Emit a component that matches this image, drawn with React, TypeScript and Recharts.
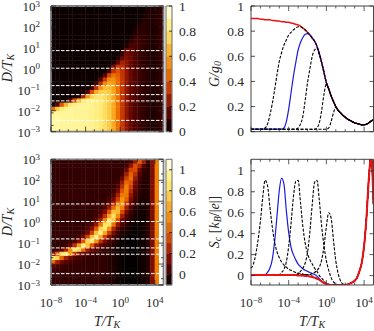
import { Line, LineChart, ReferenceLine, Scatter, ScatterChart, XAxis, YAxis } from 'recharts';

const FONT = '"Liberation Serif", serif';
const INK = '#2a2a2a';
const FRAME = '#808080';

// log10(T/T_K) of the line samples
const logT = [-8, -7.75, -7.5, -7.25, -7, -6.75, -6.5, -6.25, -6, -5.75, -5.5, -5.25, -5, -4.75, -4.5, -4.25, -4, -3.75, -3.5, -3.25, -3, -2.75, -2.5, -2.25, -2, -1.75, -1.5, -1.25, -1, -0.75, -0.5, -0.25, 0, 0.25, 0.5, 0.75, 1, 1.25, 1.5, 1.75, 2, 2.25, 2.5, 2.75, 3, 3.25, 3.5, 3.75, 4, 4.25, 4.5, 4.75, 5];

// conductance curves, they all fall onto the red one after their peak
const gRed = [0.9, 0.9, 0.9, 0.9, 0.895, 0.895, 0.89, 0.89, 0.89, 0.885, 0.885, 0.88, 0.88, 0.875, 0.875, 0.87, 0.87, 0.865, 0.86, 0.855, 0.85, 0.84, 0.825, 0.81, 0.79, 0.77, 0.745, 0.72, 0.68, 0.62, 0.55, 0.47, 0.39, 0.34, 0.285, 0.24, 0.2, 0.17, 0.15, 0.13, 0.115, 0.1, 0.09, 0.08, 0.07, 0.065, 0.06, 0.055, 0.055, 0.06, 0.07, 0.085, 0.095];
const gA = [0.02, 0.02, 0.02, 0.02, 0.02, 0.02, 0.03, 0.06, 0.13, 0.22, 0.33, 0.45, 0.56, 0.63, 0.69, 0.73, 0.77, 0.79, 0.81, 0.825, 0.835, 0.835, 0.825, 0.81, ...gRed.slice(24)];
const gBlue = [0.02, 0.02, 0.02, 0.02, 0.02, 0.02, 0.02, 0.02, 0.02, 0.02, 0.02, 0.02, 0.02, 0.02, 0.03, 0.08, 0.18, 0.31, 0.44, 0.55, 0.65, 0.71, 0.75, 0.775, 0.78, 0.77, ...gRed.slice(26)];
const gC = [0.02, 0.02, 0.02, 0.02, 0.02, 0.02, 0.02, 0.02, 0.02, 0.02, 0.02, 0.02, 0.02, 0.02, 0.02, 0.02, 0.02, 0.02, 0.02, 0.02, 0.03, 0.06, 0.12, 0.25, 0.39, 0.5, 0.6, 0.65, 0.665, 0.62, ...gRed.slice(30)];
const gD = [0.02, 0.02, 0.02, 0.02, 0.02, 0.02, 0.02, 0.02, 0.02, 0.02, 0.02, 0.02, 0.02, 0.02, 0.02, 0.02, 0.02, 0.02, 0.02, 0.02, 0.02, 0.02, 0.02, 0.02, 0.02, 0.02, 0.02, 0.02, 0.03, 0.07, 0.17, 0.3, 0.38, 0.34, ...gRed.slice(34)];
const gE = [0.02, 0.02, 0.02, 0.02, 0.02, 0.02, 0.02, 0.02, 0.02, 0.02, 0.02, 0.02, 0.02, 0.02, 0.02, 0.02, 0.02, 0.02, 0.02, 0.02, 0.02, 0.02, 0.02, 0.02, 0.02, 0.02, 0.02, 0.02, 0.02, 0.02, 0.02, 0.02, 0.02, 0.03, 0.08, 0.15, 0.195, 0.17, ...gRed.slice(38)];

// thermopower curves
const sRed = [0.005, 0.005, 0.005, 0.005, 0.005, 0.005, 0.005, 0.005, 0.005, 0.005, 0.005, 0.005, 0.005, 0.005, 0.005, 0.005, 0.005, 0.005, 0.005, 0.005, 0, 0, 0, -0.005, -0.005, -0.01, -0.015, -0.02, -0.03, -0.04, -0.055, -0.07, -0.08, -0.085, -0.09, -0.09, -0.09, -0.09, -0.09, -0.09, -0.09, -0.085, -0.075, -0.065, -0.05, -0.02, 0.04, 0.12, 0.28, 0.55, 0.92, 1.15, 0.68];
const sA = [0.07, 0.11, 0.2, 0.34, 0.52, 0.75, 0.91, 0.86, 0.66, 0.47, 0.32, 0.23, 0.17, 0.13, 0.1, 0.08, 0.06, 0.05, 0.04, 0.03, 0.025, 0.02, 0.015, 0.01, 0.01, 0, -0.005, -0.015, -0.025, ...sRed.slice(29)];
const sBlue = [0.01, 0.01, 0.01, 0.01, 0.01, 0.01, 0.01, 0.03, 0.07, 0.15, 0.32, 0.56, 0.81, 0.93, 0.87, 0.62, 0.41, 0.27, 0.2, 0.15, 0.11, 0.085, 0.065, 0.05, 0.04, 0.03, 0.02, 0.01, -0.005, -0.03, ...sRed.slice(30)];
const sC = [0.01, 0.01, 0.01, 0.01, 0.01, 0.01, 0.01, 0.01, 0.01, 0.01, 0.01, 0.01, 0.01, 0.03, 0.06, 0.13, 0.28, 0.5, 0.75, 0.9, 0.91, 0.7, 0.47, 0.31, 0.21, 0.15, 0.11, 0.07, 0.04, 0, -0.025, -0.05, ...sRed.slice(32)];
const sD = [0.01, 0.01, 0.01, 0.01, 0.01, 0.01, 0.01, 0.01, 0.01, 0.01, 0.01, 0.01, 0.01, 0.01, 0.01, 0.01, 0.01, 0.01, 0.01, 0.01, 0.02, 0.04, 0.07, 0.12, 0.22, 0.42, 0.68, 0.89, 0.91, 0.72, 0.47, 0.28, 0.14, 0.05, -0.02, -0.06, -0.08, ...sRed.slice(37)];
const sE = [0.01, 0.01, 0.01, 0.01, 0.01, 0.01, 0.01, 0.01, 0.01, 0.01, 0.01, 0.01, 0.01, 0.01, 0.01, 0.01, 0.01, 0.01, 0.01, 0.01, 0.01, 0.01, 0.01, 0.01, 0.01, 0.01, 0.02, 0.03, 0.05, 0.08, 0.15, 0.28, 0.47, 0.6, 0.55, 0.34, 0.14, 0.02, -0.05, -0.08, -0.085, ...sRed.slice(41)];

const gTable = logT.map((t, i) => ({ t, red: gRed[i], a: gA[i], blue: gBlue[i], c: gC[i], d: gD[i], e: gE[i] }));
const sTable = logT.map((t, i) => ({ t, red: sRed[i], a: sA[i], blue: sBlue[i], c: sC[i], d: sD[i], e: sE[i] }));

// heat map cell centres
const heatT = [-7.75, -7.25, -6.75, -6.25, -5.75, -5.25, -4.75, -4.25, -3.75, -3.25, -2.75, -2.25, -1.75, -1.25, -0.75, -0.25, 0.25, 0.75, 1.25, 1.75, 2.25, 2.75, 3.25, 3.75, 4.25, 4.75];
const heatD = [-2.9, -2.7, -2.5, -2.3, -2.1, -1.9, -1.7, -1.5, -1.3, -1.1, -0.9, -0.7, -0.5, -0.3, -0.1, 0.1, 0.3, 0.5, 0.7, 0.9, 1.1, 1.3, 1.5, 1.7, 1.9, 2.1, 2.3, 2.5, 2.7, 2.9];

const gHeat = [
  [.9,.9,.89,.89,.89,.88,.88,.87,.87,.86,.84,.81,.77,.71,.62,.47,.34,.24,.17,.13,.1,.08,.06,.05,.06,.09],
  [.9,.9,.89,.89,.89,.88,.88,.87,.87,.86,.84,.81,.77,.71,.62,.47,.34,.24,.17,.13,.1,.08,.06,.05,.06,.09],
  [.9,.9,.89,.89,.89,.88,.88,.87,.87,.86,.84,.81,.77,.71,.62,.47,.34,.24,.17,.13,.1,.08,.06,.05,.06,.09],
  [.89,.9,.89,.89,.89,.88,.88,.87,.87,.86,.84,.81,.77,.71,.62,.47,.34,.24,.17,.13,.1,.08,.06,.05,.06,.09],
  [.86,.88,.88,.89,.89,.88,.88,.87,.87,.86,.84,.81,.77,.71,.62,.47,.34,.24,.17,.13,.1,.08,.06,.05,.06,.09],
  [.46,.71,.81,.86,.89,.88,.88,.87,.87,.86,.84,.81,.77,.71,.62,.47,.34,.24,.17,.13,.1,.08,.06,.05,.06,.09],
  [.04,.14,.4,.65,.79,.85,.87,.87,.87,.86,.84,.81,.77,.71,.62,.47,.34,.24,.17,.13,.1,.08,.06,.05,.06,.09],
  [.02,.02,.02,.04,.14,.4,.65,.78,.84,.85,.84,.81,.77,.71,.62,.47,.34,.24,.17,.13,.1,.08,.06,.05,.06,.09],
  [.02,.02,.02,.02,.02,.02,.08,.28,.55,.73,.79,.79,.77,.71,.62,.47,.34,.24,.17,.13,.1,.08,.06,.05,.06,.09],
  [.02,.02,.02,.02,.02,.02,.02,.04,.14,.39,.62,.72,.74,.7,.62,.47,.34,.24,.17,.13,.1,.08,.06,.05,.06,.09],
  [.02,.02,.02,.02,.02,.02,.02,.02,.03,.1,.32,.56,.67,.67,.6,.47,.34,.24,.17,.13,.1,.08,.06,.05,.06,.09],
  [.02,.02,.02,.02,.02,.02,.02,.02,.02,.03,.1,.31,.53,.62,.58,.46,.34,.24,.17,.13,.1,.08,.06,.05,.06,.09],
  [.02,.02,.02,.02,.02,.02,.02,.02,.02,.02,.03,.13,.35,.52,.55,.45,.34,.24,.17,.13,.1,.08,.06,.05,.06,.09],
  [.02,.02,.02,.02,.02,.02,.02,.02,.02,.02,.02,.03,.15,.37,.47,.43,.33,.24,.17,.13,.1,.08,.06,.05,.06,.09],
  [.02,.02,.02,.02,.02,.02,.02,.02,.02,.02,.02,.02,.03,.12,.33,.4,.33,.24,.17,.13,.1,.08,.06,.05,.06,.09],
  [.02,.02,.02,.02,.02,.02,.02,.02,.02,.02,.02,.02,.02,.05,.2,.33,.31,.23,.17,.13,.1,.08,.06,.05,.06,.09],
  [.02,.02,.02,.02,.02,.02,.02,.02,.02,.02,.02,.02,.02,.02,.05,.17,.27,.23,.17,.13,.1,.08,.06,.05,.06,.09],
  [.02,.02,.02,.02,.02,.02,.02,.02,.02,.02,.02,.02,.02,.02,.02,.06,.17,.21,.17,.13,.1,.08,.06,.05,.06,.09],
  [.02,.02,.02,.02,.02,.02,.02,.02,.02,.02,.02,.02,.02,.02,.02,.03,.09,.19,.17,.13,.1,.08,.06,.05,.06,.09],
  [.02,.02,.02,.02,.02,.02,.02,.02,.02,.02,.02,.02,.02,.02,.02,.02,.04,.17,.16,.13,.1,.08,.06,.05,.06,.09],
  [.02,.02,.02,.02,.02,.02,.02,.02,.02,.02,.02,.02,.02,.02,.02,.02,.02,.06,.12,.12,.1,.08,.06,.05,.06,.09],
  [.02,.02,.02,.02,.02,.02,.02,.02,.02,.02,.02,.02,.02,.02,.02,.02,.02,.03,.08,.11,.1,.08,.06,.05,.06,.09],
  [.02,.02,.02,.02,.02,.02,.02,.02,.02,.02,.02,.02,.02,.02,.02,.02,.02,.02,.05,.09,.09,.08,.06,.05,.06,.09],
  [.02,.02,.02,.02,.02,.02,.02,.02,.02,.02,.02,.02,.02,.02,.02,.02,.02,.02,.03,.06,.08,.08,.06,.05,.06,.09],
  [.02,.02,.02,.02,.02,.02,.02,.02,.02,.02,.02,.02,.02,.02,.02,.02,.02,.02,.02,.04,.07,.07,.06,.05,.06,.09],
  [.02,.02,.02,.02,.02,.02,.02,.02,.02,.02,.02,.02,.02,.02,.02,.02,.02,.02,.02,.03,.05,.07,.06,.05,.06,.09],
  [.02,.02,.02,.02,.02,.02,.02,.02,.02,.02,.02,.02,.02,.02,.02,.02,.02,.02,.02,.02,.03,.06,.06,.05,.06,.09],
  [.02,.02,.02,.02,.02,.02,.02,.02,.02,.02,.02,.02,.02,.02,.02,.02,.02,.02,.02,.02,.02,.04,.06,.05,.06,.09],
  [.02,.02,.02,.02,.02,.02,.02,.02,.02,.02,.02,.02,.02,.02,.02,.02,.02,.02,.02,.02,.02,.03,.05,.05,.06,.09],
  [.02,.02,.02,.02,.02,.02,.02,.02,.02,.02,.02,.02,.02,.02,.02,.02,.02,.02,.02,.02,.02,.02,.04,.05,.06,.09],
];

const sHeat = [
  [0,0,0,0,0,0,0,0,0,0,0,0,-.01,-.02,-.04,-.07,-.08,-.09,-.09,-.09,-.08,-.06,-.02,.15,.5,1.1],
  [0,0,0,0,0,0,0,0,0,0,0,0,-.01,-.02,-.04,-.07,-.08,-.09,-.09,-.09,-.08,-.06,-.02,.15,.5,1.1],
  [0,0,0,0,0,0,0,0,0,0,0,0,-.01,-.02,-.04,-.07,-.08,-.09,-.09,-.09,-.08,-.06,-.02,.15,.5,1.1],
  [.01,0,0,0,0,0,0,0,0,0,0,0,-.01,-.02,-.04,-.07,-.08,-.09,-.09,-.09,-.08,-.06,-.02,.15,.5,1.1],
  [.09,.05,.03,.01,0,0,0,0,0,0,0,0,-.01,-.02,-.04,-.07,-.08,-.09,-.09,-.09,-.08,-.06,-.02,.15,.5,1.1],
  [.44,.22,.11,.06,.04,.02,.01,0,0,0,0,0,-.01,-.02,-.04,-.07,-.08,-.09,-.09,-.09,-.08,-.06,-.02,.15,.5,1.1],
  [.88,.78,.44,.22,.11,.06,.04,.02,.01,0,0,0,-.01,-.02,-.04,-.07,-.08,-.09,-.09,-.09,-.08,-.06,-.02,.15,.5,1.1],
  [.15,.39,.77,.88,.57,.29,.15,.08,.05,.02,.01,0,-.01,-.02,-.04,-.07,-.08,-.09,-.09,-.09,-.08,-.06,-.02,.15,.5,1.1],
  [0,.02,.08,.23,.54,.89,.79,.45,.21,.11,.07,.04,.01,-.02,-.04,-.07,-.08,-.09,-.09,-.09,-.08,-.06,-.02,.15,.5,1.1],
  [0,0,0,.03,.1,.28,.61,.91,.73,.38,.19,.1,.05,.01,-.03,-.07,-.08,-.09,-.09,-.09,-.08,-.06,-.02,.15,.5,1.1],
  [0,0,0,0,.01,.05,.15,.39,.78,.88,.58,.29,.14,.05,.01,-.05,-.08,-.09,-.09,-.09,-.08,-.06,-.02,.15,.5,1.1],
  [0,0,0,0,0,.01,.04,.12,.33,.71,.92,.65,.32,.15,.05,-.02,-.06,-.09,-.09,-.09,-.08,-.06,-.02,.15,.5,1.1],
  [0,0,0,0,0,0,.01,.04,.12,.33,.71,.92,.64,.32,.13,.02,-.03,-.06,-.08,-.09,-.08,-.06,-.02,.15,.5,1.1],
  [0,0,0,0,0,0,0,.01,.06,.15,.39,.78,.87,.56,.25,.08,-.01,-.04,-.07,-.09,-.08,-.06,-.02,.15,.5,1.1],
  [0,0,0,0,0,0,0,0,.02,.07,.19,.47,.85,.84,.47,.18,.05,-.01,-.05,-.07,-.08,-.06,-.02,.15,.5,1.1],
  [0,0,0,0,0,0,0,0,0,.02,.08,.23,.53,.86,.74,.37,.12,.02,-.03,-.06,-.07,-.06,-.02,.15,.5,1.1],
  [0,0,0,0,0,0,0,0,0,0,.03,.11,.29,.63,.83,.54,.22,.06,-.01,-.05,-.06,-.06,-.02,.15,.5,1.1],
  [0,0,0,0,0,0,0,0,0,0,.01,.06,.15,.39,.72,.69,.36,.13,.02,-.04,-.06,-.06,-.02,.15,.5,1.1],
  [0,0,0,0,0,0,0,0,0,0,0,.02,.07,.2,.45,.68,.5,.22,.06,-.02,-.05,-.06,-.02,.15,.5,1.1],
  [0,0,0,0,0,0,0,0,0,0,0,.01,.03,.08,.23,.47,.6,.31,.1,.01,-.04,-.05,-.02,.15,.5,1.1],
  [0,0,0,0,0,0,0,0,0,0,0,0,0,.04,.13,.33,.58,.42,.15,.03,-.03,-.05,-.02,.15,.5,1.1],
  [0,0,0,0,0,0,0,0,0,0,0,0,0,0,.06,.23,.48,.48,.2,.05,-.02,-.04,-.02,.15,.5,1.1],
  [0,0,0,0,0,0,0,0,0,0,0,0,0,0,.02,.14,.38,.5,.26,.07,0,-.04,-.02,.15,.5,1.1],
  [0,0,0,0,0,0,0,0,0,0,0,0,0,0,0,.07,.28,.5,.32,.1,.01,-.03,-.02,.15,.5,1.1],
  [0,0,0,0,0,0,0,0,0,0,0,0,0,0,0,.03,.2,.44,.38,.13,.02,-.03,-.02,.15,.5,1.1],
  [0,0,0,0,0,0,0,0,0,0,0,0,0,0,0,0,.1,.33,.45,.2,.04,-.02,-.02,.15,.5,1.1],
  [0,0,0,0,0,0,0,0,0,0,0,0,0,0,0,0,.03,.22,.42,.28,.07,-.01,-.02,.15,.5,1.1],
  [0,0,0,0,0,0,0,0,0,0,0,0,0,0,0,0,.01,.12,.34,.36,.12,.01,-.02,.15,.5,1.1],
  [0,0,0,0,0,0,0,0,0,0,0,0,0,0,0,0,0,.03,.18,.37,.25,.05,-.02,.15,.5,1.1],
  [0,0,0,0,0,0,0,0,0,0,0,0,0,0,0,0,0,.01,.05,.2,.41,.22,.02,.15,.5,1.1],
];

// white dashed cuts through the maps, log10(D/T_K)
const cutLevels = [-2.46, -1.53, -1.23, -0.8, 0.03, 0.87];

const xTicks = [-8, -7, -6, -5, -4, -3, -2, -1, 0, 1, 2, 3, 4];
const xLabels = [-8, -4, 0, 4];
const dTicks = [-3, -2.7, -2.1, -2, -1.7, -1.1, -1, -0.7, -0.1, 0, 0.3, 0.9, 1, 1.3, 1.9, 2, 2.3, 2.9, 3];
const dLabels = [-3, -2, -1, 0, 1, 2, 3];
const gTicks = [0, 0.2, 0.4, 0.6, 0.8, 1];
const sTicks = [0, 0.2, 0.4, 0.6, 0.8, 1];

const palette = ['#000000', '#3c0000', '#7a0a00', '#b52800', '#e05000', '#f08000', '#f8a018', '#fcc840', '#ffe870', '#fff8a0', '#ffffff'];

const gBands = [0.05, 0.15, 0.25, 0.35, 0.45, 0.55, 0.65, 0.75, 0.85, 0.95];
const sBands = [-0.05, 0.05, 0.15, 0.25, 0.35, 0.45, 0.55, 0.65, 0.75, 0.85, 0.95, 1.05];

function colorAt(f: number) {
  const p = Math.max(0, Math.min(1, f)) * (palette.length - 1);
  const i = Math.min(Math.floor(p), palette.length - 2);
  const mix = p - i;
  const a = palette[i];
  const b = palette[i + 1];
  const ch = (k: number) => {
    const x = parseInt(a.slice(k, k + 2), 16);
    const y = parseInt(b.slice(k, k + 2), 16);
    return Math.round(x + (y - x) * mix);
  };
  return `rgb(${ch(1)},${ch(3)},${ch(5)})`;
}

function Decade({ x, y, exp, anchor }: any) {
  return (
    <text x={x} y={y} textAnchor={anchor} fontFamily={FONT} fontSize={13} fill={INK}>
      <tspan>10</tspan>
      <tspan dy={-4.5} fontSize={9}>{String(exp).replace('-', '\u2212')}</tspan>
    </text>
  );
}

// ticks go inside the frame, the way the plotting program drew them
function BottomTick({ x, y, payload, labelled, color }: any) {
  const major = xLabels.includes(payload.value);
  return (
    <g>
      <line x1={x} x2={x} y1={y} y2={y - (major ? 5 : 2.5)} stroke={color} strokeWidth={0.8} />
      {labelled && major ? <Decade x={x} y={y + 22} exp={payload.value} anchor="middle" /> : null}
    </g>
  );
}

function TopTick({ x, y, payload, color }: any) {
  const major = xLabels.includes(payload.value);
  return <line x1={x} x2={x} y1={y} y2={y + (major ? 5 : 2.5)} stroke={color} strokeWidth={0.8} />;
}

function LogLeftTick({ x, y, payload, color }: any) {
  const major = dLabels.includes(payload.value);
  return (
    <g>
      <line x1={x} x2={x + (major ? 5 : 2.5)} y1={y} y2={y} stroke={color} strokeWidth={0.8} />
      {major ? <Decade x={x - 11} y={y + 5} exp={payload.value} anchor="end" /> : null}
    </g>
  );
}

function PlainLeftTick({ x, y, payload }: any) {
  return (
    <g>
      <line x1={x} x2={x + 4} y1={y} y2={y} stroke="#222" strokeWidth={0.8} />
      <text x={x - 7} y={y + 4.5} textAnchor="end" fontFamily={FONT} fontSize={13.5} fill={INK}>
        {payload.value}
      </text>
    </g>
  );
}

function RightTick({ x, y, payload, major, color }: any) {
  const len = major ? (major(payload.value) ? 5 : 2.5) : 4;
  return <line x1={x} x2={x - len} y1={y} y2={y} stroke={color} strokeWidth={0.8} />;
}

function BarTick({ x, y, payload }: any) {
  return (
    <g>
      <line x1={x} x2={x - 3} y1={y} y2={y} stroke="#111" strokeWidth={0.8} />
      <text x={x + 7} y={y + 4.5} fontFamily={FONT} fontSize={13.5} fill={INK}>
        {payload.value}
      </text>
    </g>
  );
}

const NoMark = () => <g />;

function HeatMap({ rows, low, high, top, height, marginTop, marginBottom, labelled }: any) {
  const plotW = 112.5;
  const plotH = height - marginTop - marginBottom;
  const w = plotW / heatT.length + 0.4;
  const h = plotH / heatD.length + 0.4;
  const cells = heatD.flatMap((d, j) => heatT.map((t, i) => ({ t, d, v: rows[j][i] })));
  const frame = { stroke: FRAME, strokeWidth: 1.8 };
  const corner = [{ t: -8, d: -3 }];
  return (
    <>
      <div style={{ position: 'absolute', left: 0, top }}>
        <ScatterChart width={165} height={height} margin={{ top: marginTop, right: 1.5, left: 51, bottom: marginBottom }}>
          <XAxis hide type="number" dataKey="t" domain={[-8, 5]} />
          <YAxis hide type="number" dataKey="d" domain={[-3, 3]} />
          <Scatter
            data={cells}
            isAnimationActive={false}
            shape={(p: any) => (
              <rect x={p.cx - w / 2} y={p.cy - h / 2} width={w} height={h} fill={colorAt((p.payload.v - low) / (high - low))} />
            )}
          />
        </ScatterChart>
      </div>
      {/* second chart on top so the frame, ticks and cuts stay above the cells */}
      <div style={{ position: 'absolute', left: 0, top }}>
        <ScatterChart width={165} height={height} margin={{ top: marginTop - 1, right: 0.5, left: 0, bottom: labelled ? 0 : marginBottom - 1 }}>
          <XAxis type="number" dataKey="t" domain={[-8, 5]} ticks={xTicks} interval={0} height={labelled ? marginBottom : 1} tickSize={0} tickMargin={0} tickLine={false} axisLine={frame} tick={<BottomTick labelled={labelled} color="#222" />} />
          <XAxis xAxisId="top" orientation="top" type="number" dataKey="t" domain={[-8, 5]} ticks={xTicks} interval={0} height={1} tickSize={0} tickMargin={0} tickLine={false} axisLine={frame} tick={<TopTick color="#222" />} />
          <YAxis type="number" dataKey="d" domain={[-3, 3]} ticks={dTicks} interval={0} width={51} tickSize={0} tickMargin={0} tickLine={false} axisLine={frame} tick={<LogLeftTick color="#222" />} />
          <YAxis yAxisId="right" orientation="right" type="number" dataKey="d" domain={[-3, 3]} ticks={dTicks} interval={0} width={1} tickSize={0} tickMargin={0} tickLine={false} axisLine={frame} tick={<RightTick color="#222" major={(v: number) => dLabels.includes(v)} />} />
          <Scatter data={corner} isAnimationActive={false} shape={NoMark} />
          <Scatter data={corner} xAxisId="top" yAxisId="right" isAnimationActive={false} shape={NoMark} />
          {cutLevels.map((y) => (
            <ReferenceLine key={y} y={y} stroke="#ffffff" strokeWidth={1} strokeDasharray="3.5 1.5" />
          ))}
        </ScatterChart>
      </div>
    </>
  );
}

function ColorBar({ bands, low, high, ticks, top, height, marginTop, marginBottom }: any) {
  const plotH = height - marginTop - marginBottom;
  const h = (plotH * (bands[1] - bands[0])) / (high - low) + 0.4;
  const frame = { stroke: FRAME, strokeWidth: 1.2 };
  const cells = bands.map((b: number) => ({ x: 0.5, b }));
  const corner = [{ x: 0.5, b: bands[0] }];
  return (
    <>
      <div style={{ position: 'absolute', left: 165, top }}>
        <ScatterChart width={37} height={height} margin={{ top: marginTop, right: 30, left: 1, bottom: marginBottom }}>
          <XAxis hide type="number" dataKey="x" domain={[0, 1]} />
          <YAxis hide type="number" dataKey="b" domain={[low, high]} />
          <Scatter
            data={cells}
            isAnimationActive={false}
            shape={(p: any) => (
              <rect x={p.cx - 3} y={p.cy - h / 2} width={6} height={h} fill={colorAt((p.payload.b - low) / (high - low))} />
            )}
          />
        </ScatterChart>
      </div>
      <div style={{ position: 'absolute', left: 165, top }}>
        <ScatterChart width={37} height={height} margin={{ top: marginTop - 1, right: 0, left: 0, bottom: marginBottom - 1 }}>
          <XAxis type="number" dataKey="x" domain={[0, 1]} height={1} tick={false} tickLine={false} axisLine={frame} />
          <XAxis xAxisId="top" orientation="top" type="number" dataKey="x" domain={[0, 1]} height={1} tick={false} tickLine={false} axisLine={frame} />
          <YAxis type="number" dataKey="b" domain={[low, high]} width={1} tick={false} tickLine={false} axisLine={frame} />
          <YAxis yAxisId="right" orientation="right" type="number" dataKey="b" domain={[low, high]} ticks={ticks} interval={0} width={30} tickSize={0} tickMargin={0} tickLine={false} axisLine={frame} tick={<BarTick />} />
          <Scatter data={corner} isAnimationActive={false} shape={NoMark} />
          <Scatter data={corner} xAxisId="top" yAxisId="right" isAnimationActive={false} shape={NoMark} />
        </ScatterChart>
      </div>
    </>
  );
}

function Curves({ table, domain, yTicks, top, height, marginTop, marginBottom, labelled, redOnTop, redWidth }: any) {
  const axisLine = { stroke: '#444', strokeWidth: 1 };
  const dashed = { type: 'monotone' as const, stroke: '#000', strokeWidth: 1.1, strokeDasharray: '3 1.5', dot: false, isAnimationActive: false };
  const red = <Line dataKey="red" type="monotone" stroke="#ee1111" strokeWidth={redWidth} dot={false} isAnimationActive={false} />;
  return (
    <div style={{ position: 'absolute', left: 190, top }}>
      <LineChart width={185} height={height} data={table} margin={{ top: marginTop - 1, right: 0.5, left: 0, bottom: labelled ? 0 : marginBottom - 1 }}>
        <XAxis type="number" dataKey="t" domain={[-8, 5]} ticks={xTicks} interval={0} height={labelled ? marginBottom : 1} tickSize={0} tickMargin={0} tickLine={false} axisLine={axisLine} tick={<BottomTick labelled={labelled} color="#333" />} />
        <XAxis xAxisId="top" orientation="top" type="number" dataKey="t" domain={[-8, 5]} ticks={xTicks} interval={0} height={1} tickSize={0} tickMargin={0} tickLine={false} axisLine={axisLine} tick={<TopTick color="#333" />} />
        <YAxis type="number" domain={domain} allowDataOverflow ticks={yTicks} interval={0} width={61} tickSize={0} tickMargin={0} tickLine={false} axisLine={axisLine} tick={<PlainLeftTick />} />
        <YAxis yAxisId="right" orientation="right" type="number" domain={domain} allowDataOverflow ticks={yTicks} interval={0} width={1} tickSize={0} tickMargin={0} tickLine={false} axisLine={axisLine} tick={<RightTick color="#333" />} />
        {/* invisible series only ties the mirror axes to the data */}
        <Line xAxisId="top" yAxisId="right" dataKey="red" stroke="none" dot={false} isAnimationActive={false} />
        {redOnTop ? null : red}
        <Line dataKey="blue" type="monotone" stroke="#1a1ae0" strokeWidth={1.2} dot={false} isAnimationActive={false} />
        <Line dataKey="a" {...dashed} />
        <Line dataKey="c" {...dashed} />
        <Line dataKey="d" {...dashed} />
        <Line dataKey="e" {...dashed} />
        {redOnTop ? red : null}
      </LineChart>
    </div>
  );
}

function Titles() {
  const common = { fontFamily: FONT, fontSize: 14, fill: INK };
  return (
    <svg width={374} height={331} style={{ position: 'absolute', left: 0, top: 0, pointerEvents: 'none' }}>
      <text {...common} textAnchor="middle" fontStyle="italic" transform="translate(12 68) rotate(-90)">
        D/T<tspan dy={2} fontSize={10}>K</tspan>
      </text>
      <text {...common} textAnchor="middle" fontStyle="italic" transform="translate(12 222) rotate(-90)">
        D/T<tspan dy={2} fontSize={10}>K</tspan>
      </text>
      <text {...common} textAnchor="middle" fontStyle="italic" transform="translate(219 74) rotate(-90)">
        G/g<tspan dy={2} fontSize={10}>0</tspan>
      </text>
      <text {...common} textAnchor="middle" transform="translate(219 222) rotate(-90)">
        <tspan fontStyle="italic">S</tspan>
        <tspan dy={2} fontSize={10} fontStyle="italic">c</tspan>
        <tspan dy={-2}> [</tspan>
        <tspan fontStyle="italic">k</tspan>
        <tspan dy={2} fontSize={10} fontStyle="italic">B</tspan>
        <tspan dy={-2}>/|</tspan>
        <tspan fontStyle="italic">e</tspan>
        <tspan>|]</tspan>
      </text>
      <text {...common} x={107} y={326} textAnchor="middle" fontStyle="italic">
        T/T<tspan dy={2} fontSize={10}>K</tspan>
      </text>
      <text {...common} x={312} y={326} textAnchor="middle" fontStyle="italic">
        T/T<tspan dy={2} fontSize={10}>K</tspan>
      </text>
    </svg>
  );
}

export default function App() {
  return (
    <div style={{ position: 'absolute', left: 0, top: 0, width: 374, height: 331, background: '#fff', overflow: 'hidden' }}>
      <HeatMap rows={gHeat} low={0} high={1} top={0} height={140} marginTop={6} marginBottom={8.3} />
      <ColorBar bands={gBands} low={0} high={1} ticks={gTicks} top={0} height={140} marginTop={6} marginBottom={8.3} />
      <Curves table={gTable} domain={[0, 1]} yTicks={gTicks} top={0} height={140} marginTop={6} marginBottom={8.3} redWidth={1.5} />
      <HeatMap rows={sHeat} low={-0.1} high={1.1} top={150} height={181} marginTop={9.3} marginBottom={46} labelled />
      <ColorBar bands={sBands} low={-0.1} high={1.1} ticks={sTicks} top={150} height={181} marginTop={9.3} marginBottom={46} />
      <Curves table={sTable} domain={[-0.09, 1.11]} yTicks={sTicks} top={150} height={181} marginTop={9.3} marginBottom={46} labelled redOnTop redWidth={2} />
      <Titles />
    </div>
  );
}
